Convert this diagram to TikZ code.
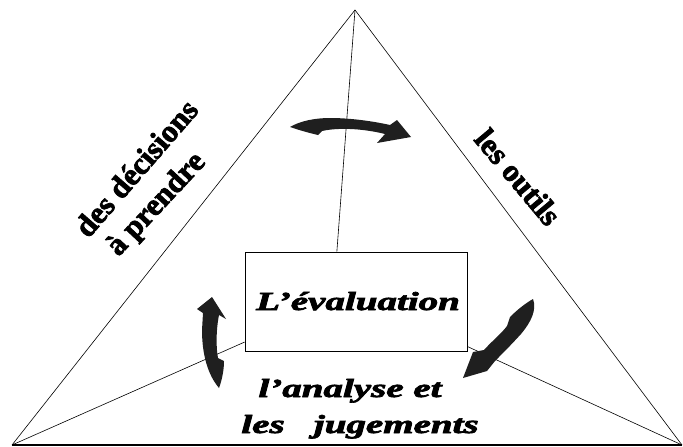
\documentclass[tikz,border=0pt]{standalone}
\usepackage{fontspec}
\setmainfont{Liberation Serif}
\newfontfamily\heavyserif{Liberation Serif}[BoldFeatures={FakeBold=2.5},BoldItalicFeatures={FakeBold=2.5}]
\begin{document}
\begin{tikzpicture}[x=1pt,y=-1pt,
  thinline/.style={line width=0.6pt, draw=black},
  rlbl/.style={font=\heavyserif\bfseries\fontsize{31}{34}\selectfont, inner sep=0pt},
  ilbl/.style={font=\heavyserif\bfseries\itshape\fontsize{26}{30}\selectfont, inner sep=0pt, xscale=1.5},
  blk/.style={fill=black!88, draw=none}]
\useasboundingbox (0,0) rectangle (683,447);
% triangle
\coordinate (apex) at (355,10);
\coordinate (bl) at (12,445);
\coordinate (br) at (682,445);
\draw[thinline] (bl) -- (apex) -- (br);
\draw[line width=1.3pt] (bl) -- (br);
% box
\node[draw, line width=0.7pt, minimum width=222pt, minimum height=99pt, inner sep=0pt] (box) at (356,301.5) {};
\draw[thinline] (apex) -- (box.111);
\draw[thinline] (bl) -- (box.200);
\draw[thinline] (box.-22.5) -- (br);
% texts
\node[ilbl, anchor=base] (eval) at (358,310) {L’évaluation};
\node[ilbl, anchor=base] (ana1) at (350,397) {l’analyse et};
\node[ilbl, anchor=base] (ana2) at (360,433) {les\ \ \ jugements};
\node[rlbl, rotate=49] (dec1) at (136,168) {des décisions};
\node[rlbl, rotate=47] (dec2) at (157,205) {à prendre};
\node[rlbl, rotate=-50] (out) at (518,177) {les outils};
% arrows
\fill[blk] (290,127) .. controls (300,121) and (315,118) .. (330,118)
  .. controls (350,118) and (372,121) .. (390,125) -- (397,120) -- (411,137)
  -- (377,143) -- (385,134) .. controls (365,129) and (340,127) .. (322,131)
  -- (318,135) .. controls (305,132) and (296,129) .. cycle;
\fill[blk] (212,297) -- (226,319) -- (219,315) .. controls (216,330) and (216,348) .. (218,358)
  -- (224,361) .. controls (224,370) and (222,380) .. (219,388)
  .. controls (208,375) and (202,355) .. (202,330) -- (203,313) -- (197,309) -- cycle;
\fill[blk] (533,299) .. controls (537,310) and (531,322) .. (521,334)
  .. controls (511,345) and (501,355) .. (495,361) -- (487,371) -- (463,378)
  -- (473,352) -- (484,350) .. controls (492,341) and (502,333) .. (507,326)
  -- (510,317) .. controls (518,309) and (526,303) .. cycle;
\end{tikzpicture}
\end{document}
